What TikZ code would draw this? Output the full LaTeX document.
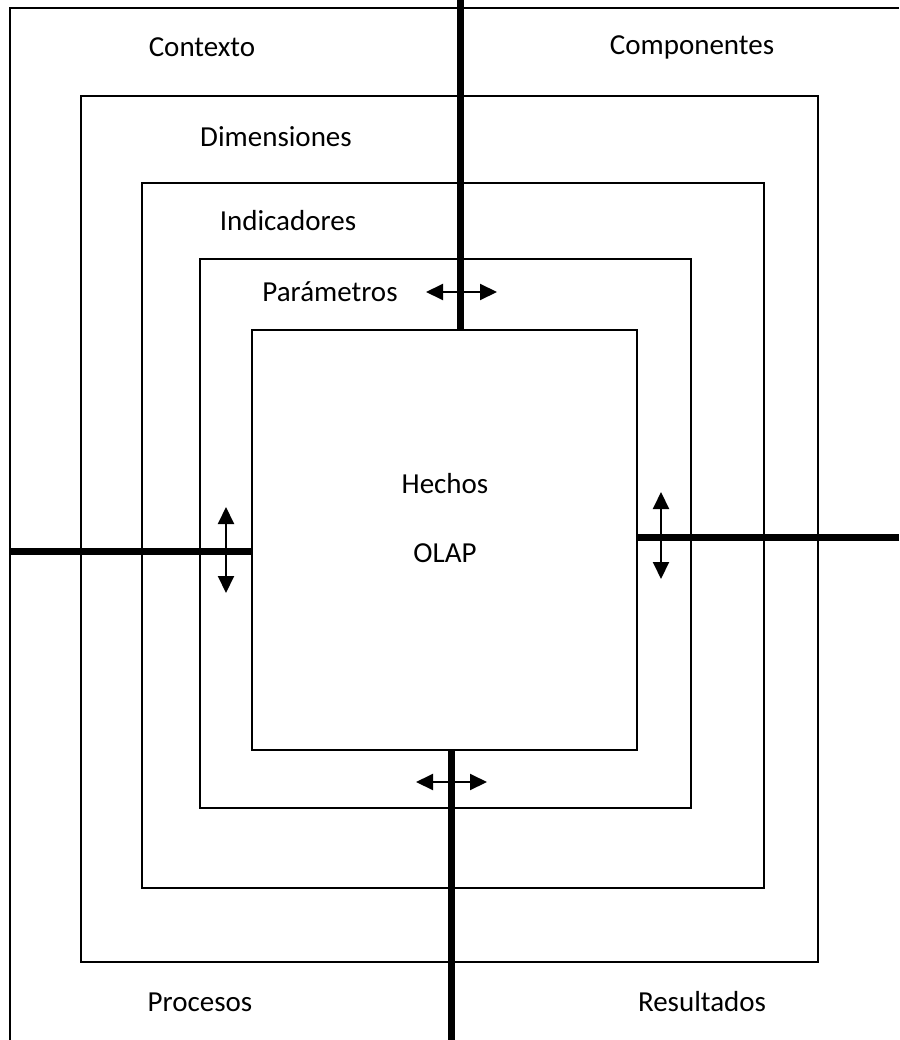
\documentclass[tikz,border=0pt]{standalone}
\usepackage{fontspec}
\setmainfont{Carlito}
\usetikzlibrary{arrows.meta}
\begin{document}
\begin{tikzpicture}[x=1pt,y=-1pt,
  box/.style={draw=black,line width=2pt},
  thick line/.style={line width=7pt},
  darrow/.style={line width=2pt,{Triangle[length=17pt,width=16pt]}-{Triangle[length=17pt,width=16pt]}},
  lbl/.style={font=\fontsize{29}{32}\selectfont,inner sep=0pt}]
\useasboundingbox (0,0) rectangle (899,1040);
% outer frame
\coordinate (o1) at (10,1040);
\coordinate (o2) at (10,8);
\coordinate (o3) at (899,8);
\draw[line width=2pt] (o1) -- (o2) -- (o3);
% nested boxes
\node[box,minimum width=737pt,minimum height=866pt,inner sep=0pt] (r1) at (449.5,529) {};
\node[box,minimum width=622pt,minimum height=705pt,inner sep=0pt] (r2) at (453,535.5) {};
\node[box,minimum width=491pt,minimum height=549pt,inner sep=0pt] (r3) at (445.5,533.5) {};
\node[box,minimum width=385pt,minimum height=420pt,inner sep=0pt,fill=white] (r4) at (444.5,540) {};
% thick lines
\coordinate (t0) at (460,0);
\coordinate (b0) at (451,1040);
\coordinate (l0) at (10,551);
\coordinate (rr0) at (899,537);
\draw[thick line] (t0) -- (t0 |- r4.north);
\draw[thick line] (b0) -- (b0 |- r4.south);
\draw[thick line] (l0) -- (l0 -| r4.west);
\draw[thick line] (rr0) -- (rr0 -| r4.east);
% double arrows
\coordinate (a1) at (426,292); \coordinate (a2) at (497,292);
\draw[darrow] (a1) -- (a2);
\coordinate (a3) at (416,782); \coordinate (a4) at (487,782);
\draw[darrow] (a3) -- (a4);
\coordinate (a5) at (226,507); \coordinate (a6) at (226,593);
\draw[darrow] (a5) -- (a6);
\coordinate (a7) at (661,492); \coordinate (a8) at (661,579);
\draw[darrow] (a7) -- (a8);
% labels
\node[lbl] (contexto) at (202,47) {Contexto};
\node[lbl] (componentes) at (692,47) {Componentes};
\node[lbl] (dimensiones) at (276,137) {Dimensiones};
\node[lbl] (indicadores) at (288,221) {Indicadores};
\node[lbl] (parametros) at (330,292) {Parámetros};
\node[lbl] (hechos) at (445,484) {Hechos};
\node[lbl] (olap) at (445,553) {OLAP};
\node[lbl] (procesos) at (200,1002) {Procesos};
\node[lbl] (resultados) at (702,1002) {Resultados};
\end{tikzpicture}
\end{document}
